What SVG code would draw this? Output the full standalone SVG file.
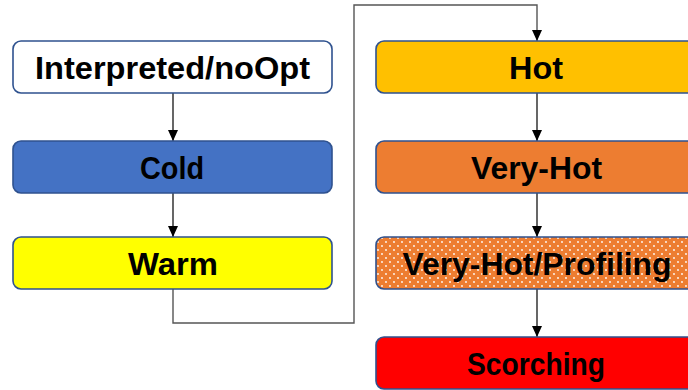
<svg xmlns="http://www.w3.org/2000/svg" width="688" height="390" viewBox="0 0 688 390">
<style>
.box{stroke:#2F528F;stroke-width:1.6}
.t{font-family:"Liberation Sans",Arial,sans-serif;font-weight:bold;font-size:31px;fill:#000;text-anchor:middle}
.c{fill:none;stroke:#000;stroke-width:1.2}
.e{fill:none;stroke:#555;stroke-width:1.4}
</style>
<defs>
<marker id="ah" markerWidth="11" markerHeight="10" refX="11" refY="5" orient="auto" markerUnits="userSpaceOnUse">
<path d="M0,0 L11,5 L0,10 Z" fill="#000"/>
</marker>
<pattern id="dots" width="8" height="8" patternUnits="userSpaceOnUse">
<rect width="8" height="8" fill="#ED7D31"/>
<circle cx="2" cy="2" r="0.9" fill="#fff"/>
<circle cx="6" cy="6" r="0.9" fill="#fff"/>
</pattern>
</defs>
<g id="connectors">
<path class="c" d="M173,93 V141" marker-end="url(#ah)"/>
<path class="c" d="M173,193 V237" marker-end="url(#ah)"/>
<path class="e" d="M173,289 V323 H354 V5 H537 V41" marker-end="url(#ah)"/>
<path class="c" d="M537,93 V141" marker-end="url(#ah)"/>
<path class="c" d="M537,193 V237" marker-end="url(#ah)"/>
<path class="c" d="M537,289 V337" marker-end="url(#ah)"/>
</g>
<g id="interpreted"><rect class="box" x="13" y="41" width="319" height="52" rx="8" fill="#fff"/><text class="t" x="172.5" y="79" textLength="275" lengthAdjust="spacingAndGlyphs">Interpreted/noOpt</text></g>
<g id="cold"><rect class="box" x="13" y="141" width="319" height="52" rx="8" fill="#4472C4"/><text class="t" x="172" y="179" textLength="64" lengthAdjust="spacingAndGlyphs">Cold</text></g>
<g id="warm"><rect class="box" x="13" y="237" width="319" height="52" rx="8" fill="#FFFF00"/><text class="t" x="173" y="275" textLength="90" lengthAdjust="spacingAndGlyphs">Warm</text></g>
<g id="hot"><rect class="box" x="376" y="41" width="322" height="52" rx="8" fill="#FFC000"/><text class="t" x="536" y="79" textLength="54" lengthAdjust="spacingAndGlyphs">Hot</text></g>
<g id="veryhot"><rect class="box" x="376" y="141" width="322" height="52" rx="8" fill="#ED7D31"/><text class="t" x="536.5" y="179" textLength="131" lengthAdjust="spacingAndGlyphs">Very-Hot</text></g>
<g id="profiling"><rect class="box" x="376" y="237" width="322" height="52" rx="8" fill="url(#dots)"/><text class="t" x="537" y="275" textLength="269" lengthAdjust="spacingAndGlyphs">Very-Hot/Profiling</text></g>
<g id="scorching"><rect class="box" x="376" y="337" width="322" height="52" rx="8" fill="#FF0000"/><text class="t" x="536" y="375" textLength="138" lengthAdjust="spacingAndGlyphs">Scorching</text></g>
</svg>
